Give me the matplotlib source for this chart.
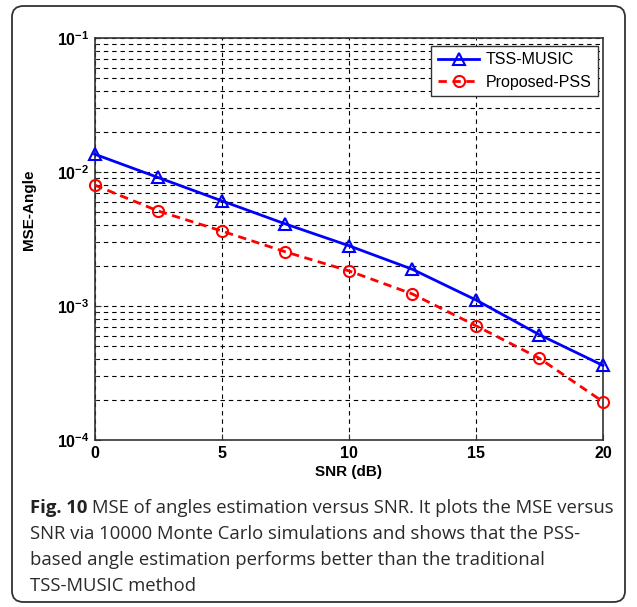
import matplotlib
matplotlib.use("Agg")
import matplotlib.pyplot as plt
from matplotlib.patches import FancyBboxPatch
from matplotlib.ticker import LogLocator, FuncFormatter, NullFormatter, FixedLocator
import numpy as np

snr = [0, 2.5, 5, 7.5, 10, 12.5, 15, 17.5, 20]
tss_music = [0.0136, 0.0091, 0.0061, 0.0041, 0.00282, 0.00188, 0.00111, 0.00061, 0.00036]
proposed_pss = [0.0080, 0.00512, 0.00363, 0.00254, 0.00183, 0.00123, 0.000713, 0.000407, 0.000193]
x_ticks = [0, 5, 10, 15, 20]
y_ticks = [1e-4, 1e-3, 1e-2, 1e-1]
series_names = ["TSS-MUSIC", "Proposed-PSS"]
x_label = "SNR (dB)"
y_label = "MSE-Angle"

TF = 'Liberation Sans'
plt.rcParams['mathtext.fontset'] = 'custom'
plt.rcParams['mathtext.bf'] = TF + ':bold'
plt.rcParams['mathtext.rm'] = TF

W, H = 637, 607
fig = plt.figure(figsize=(W/100, H/100), dpi=100)

# rounded outer frame
frame = FancyBboxPatch((12/W, 5/H), (625-12)/W, (601-5)/H,
                       boxstyle="round,pad=0,rounding_size=0.018",
                       transform=fig.transFigure, fill=False,
                       edgecolor='#333333', linewidth=1.3)
fig.patches.append(frame)

ax = fig.add_axes([94.5/W, 1-440/H, (603-94.5)/W, (440-38)/H])
ax.set_yscale('log')
ax.set_xlim(0, 20)
ax.set_ylim(1e-4, 1e-1)

grid_kw = dict(color='black', linewidth=0.8, linestyle=(0, (4, 3.5)))
ax.set_xticks(x_ticks)
ax.yaxis.set_major_locator(FixedLocator(y_ticks))
ax.yaxis.set_minor_locator(LogLocator(base=10, subs=np.arange(2, 10)))
ax.yaxis.set_minor_formatter(NullFormatter())
ax.grid(True, which='major', axis='both', **grid_kw)
ax.grid(True, which='minor', axis='y', **grid_kw)
ax.set_axisbelow(True)

ax.plot(snr, tss_music, color='#0000ff', linestyle='-', linewidth=2.0,
        marker='^', markersize=9, markerfacecolor='none',
        markeredgewidth=1.5, label=series_names[0], clip_on=False, zorder=3)
ax.plot(snr, proposed_pss, color='#ff0000', linestyle='--', linewidth=2.0,
        dashes=(3, 2), marker='o', markersize=8, markerfacecolor='none',
        markeredgewidth=1.5, label=series_names[1], clip_on=False, zorder=3)

def yfmt(v, pos):
    e = int(round(np.log10(v)))
    return r'$\mathbf{10^{%d}}$' % e

ax.yaxis.set_major_formatter(FuncFormatter(yfmt))
for lab in ax.get_xticklabels():
    lab.set_fontfamily(TF)
    lab.set_fontweight('bold')
    lab.set_fontsize(11.5)
ax.tick_params(axis='y', labelsize=11.5)
ax.tick_params(which='both', direction='in', color='#333333')
ax.tick_params(which='major', length=4)
ax.tick_params(which='minor', length=2)
ax.tick_params(axis='x', pad=4)

for s in ax.spines.values():
    s.set_color('#333333')
    s.set_linewidth(1.2)

ax.set_xlabel(x_label, fontfamily=TF, fontweight='bold',
              fontsize=11, labelpad=3)
ax.set_ylabel(y_label, fontfamily=TF, fontweight='bold',
              fontsize=11)
ax.yaxis.set_label_coords(-0.115, 1-(210-38)/(440-38), transform=ax.transAxes)

leg = ax.legend(loc='upper right', bbox_to_anchor=(1-5/(603-94.5), 1-8/(440-38)),
                prop={'family': TF, 'size': 11.5},
                fancybox=False, framealpha=1, edgecolor='#333333',
                handlelength=2.6, borderpad=0.4, labelspacing=0.45,
                handletextpad=0.4, borderaxespad=0)
leg.get_frame().set_linewidth(1.0)

# caption
cap_x = 30/W
cap_fs = 13.3
fam = 'Open Sans'
lines = [
    "MSE of angles estimation versus SNR. It plots the MSE versus",
    "SNR via 10000 Monte Carlo simulations and shows that the PSS-",
    "based angle estimation performs better than the traditional",
    "TSS-MUSIC method",
]
ys = [508, 534, 560, 586]
t = fig.text(cap_x, 1-ys[0]/H, "Fig. 10", fontfamily=fam, fontweight='bold',
             fontsize=cap_fs, va='center', ha='left', color='#222222')
fig.canvas.draw()
bb = t.get_window_extent()
fig.text((bb.x1 + 5)/W, 1-ys[0]/H, lines[0], fontfamily=fam, fontsize=cap_fs,
         va='center', ha='left', color='#2a2a2a')
for ln, yy in zip(lines[1:], ys[1:]):
    fig.text(cap_x, 1-yy/H, ln, fontfamily=fam, fontsize=cap_fs,
             va='center', ha='left', color='#2a2a2a')

fig.savefig('out.png', dpi=100)
